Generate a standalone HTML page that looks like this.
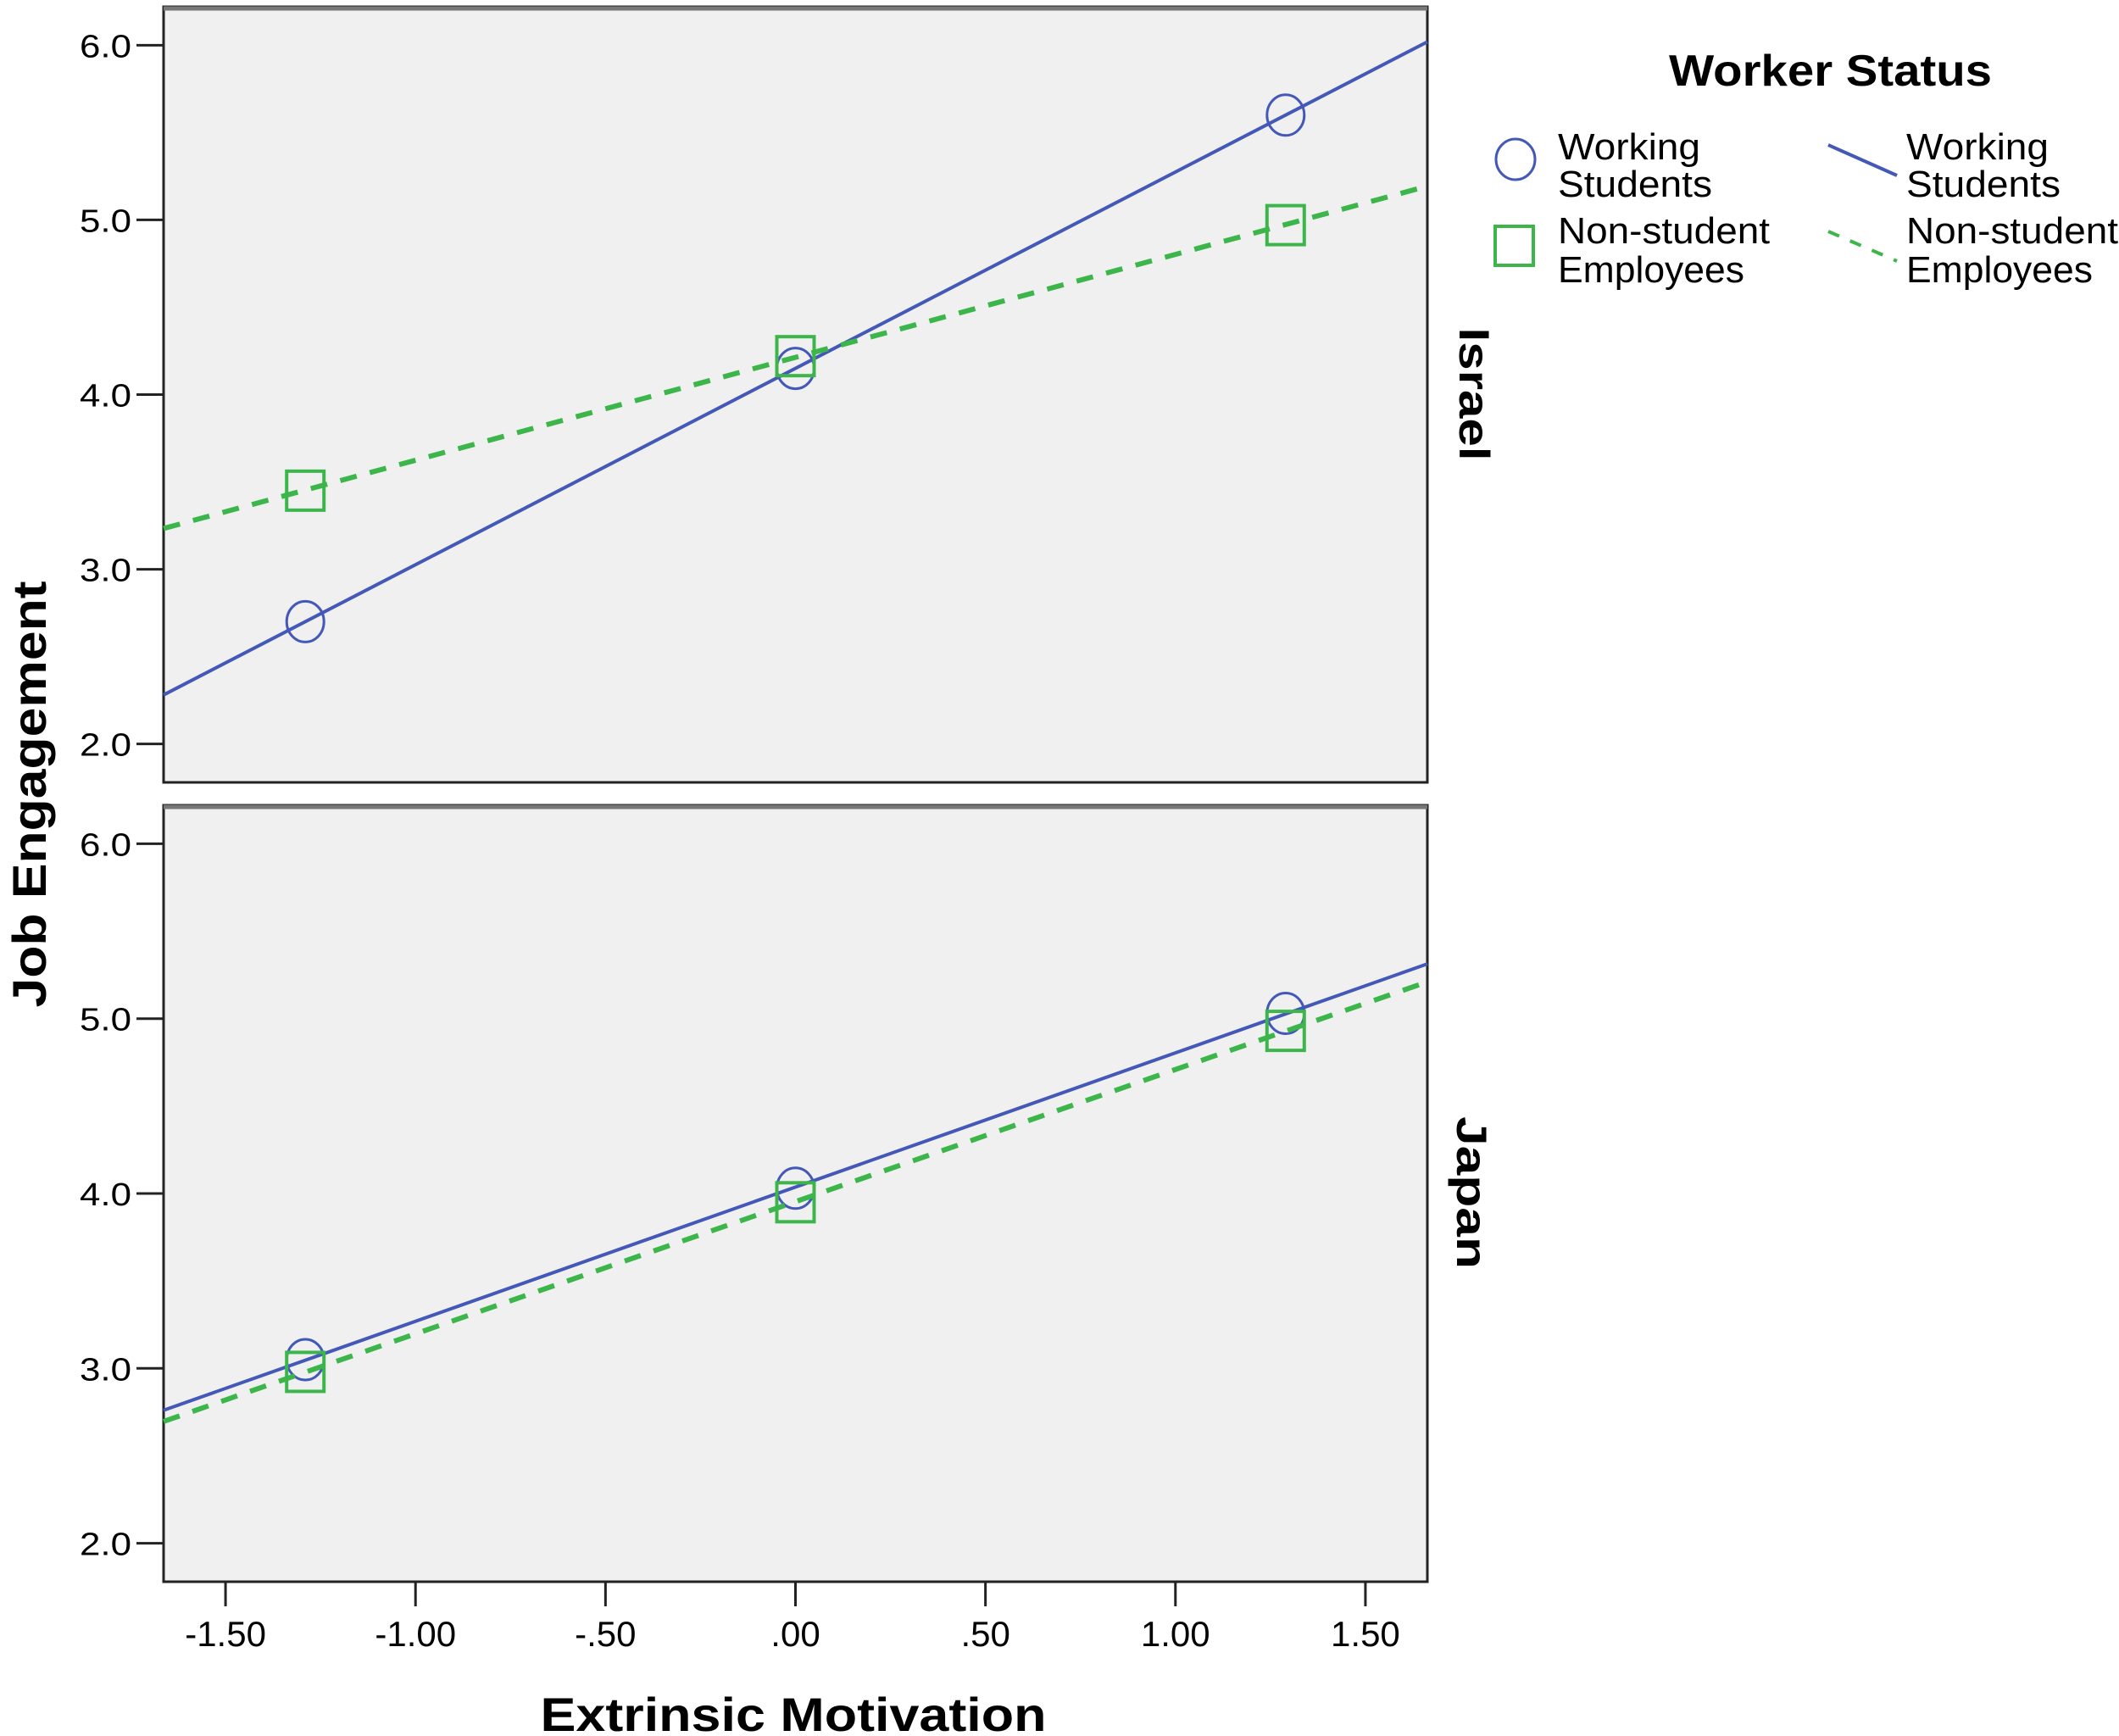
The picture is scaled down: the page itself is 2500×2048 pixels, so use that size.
<!DOCTYPE html>
<html><head><meta charset="utf-8"><style>
html,body{margin:0;padding:0;background:#fff;}
svg{display:block;font-family:"Liberation Sans",Arial,sans-serif;}
</style></head><body>
<svg id="chart" width="2500" height="2048" viewBox="0 0 2500 2048" xmlns="http://www.w3.org/2000/svg">
<g id="panels"></g>
<text x="936" y="2042" font-size="56" font-weight="bold" text-anchor="middle" textLength="597" lengthAdjust="spacingAndGlyphs">Extrinsic Motivation</text>
<text transform="translate(54,937) rotate(-90)" font-size="56" font-weight="bold" text-anchor="middle" textLength="503" lengthAdjust="spacingAndGlyphs">Job Engagement</text>
<g>
<text x="1969" y="101" font-size="52" font-weight="bold" textLength="381" lengthAdjust="spacingAndGlyphs">Worker Status</text>
<g>
<ellipse cx="1788" cy="188" rx="23" ry="24" fill="none" stroke="#4458b8" stroke-width="3"/>
<text x="1838" y="188" font-size="44" textLength="168" lengthAdjust="spacingAndGlyphs">Working</text>
<text x="1838" y="232" font-size="44" textLength="182" lengthAdjust="spacingAndGlyphs">Students</text>
</g>
<g>
<rect x="1764" y="267" width="45" height="46" fill="none" stroke="#3cb64a" stroke-width="4"/>
<text x="1838" y="287" font-size="44" textLength="250" lengthAdjust="spacingAndGlyphs">Non-student</text>
<text x="1838" y="333" font-size="44" textLength="220" lengthAdjust="spacingAndGlyphs">Employees</text>
</g>
<g>
<line x1="2157" y1="171" x2="2238" y2="207" stroke="#4458b8" stroke-width="4"/>
<text x="2249" y="188" font-size="44" textLength="168" lengthAdjust="spacingAndGlyphs">Working</text>
<text x="2249" y="232" font-size="44" textLength="182" lengthAdjust="spacingAndGlyphs">Students</text>
</g>
<g>
<line x1="2157" y1="273" x2="2238" y2="308" stroke="#3cb64a" stroke-width="4" stroke-dasharray="14,14"/>
<text x="2249" y="287" font-size="44" textLength="250" lengthAdjust="spacingAndGlyphs">Non-student</text>
<text x="2249" y="333" font-size="44" textLength="220" lengthAdjust="spacingAndGlyphs">Employees</text>
</g>
</g>
</svg>
<script>
const countries = ["Israel", "Japan"];
const xPoints = [-1.29, 0, 1.29];
const israelWorking = [2.70, 4.15, 5.60];
const israelNonStudent = [3.45, 4.22, 4.97];
const japanWorking = [3.05, 4.03, 5.03];
const japanNonStudent = [2.98, 3.95, 4.93];
const yTicks = [2.0, 3.0, 4.0, 5.0, 6.0];
const yTickLabels = ["2.0", "3.0", "4.0", "5.0", "6.0"];
const xTicks = [-1.5, -1.0, -0.5, 0, 0.5, 1.0, 1.5];
const xTickLabels = ["-1.50", "-1.00", "-.50", ".00", ".50", "1.00", "1.50"];

const NS = "http://www.w3.org/2000/svg";
const L = 193, R = 1684;
const xMin = -1.663, xMax = 1.663;
const panelTops = [8, 950], panelBots = [923, 1866];
const yMin = 1.78, yMax = 6.22;
const seriesByPanel = [[israelWorking, israelNonStudent], [japanWorking, japanNonStudent]];
const labelCenters = [[1740, 465], [1737, 1407]];
const labelLens = [157, 180];

function xs(v) { return L + (v - xMin) / (xMax - xMin) * (R - L); }
function mk(tag, attrs, parent) {
  const e = document.createElementNS(NS, tag);
  for (const k in attrs) e.setAttribute(k, attrs[k]);
  parent.appendChild(e);
  return e;
}
function fit(ys) {
  const n = xPoints.length;
  let mx = 0, my = 0;
  for (let i = 0; i < n; i++) { mx += xPoints[i]; my += ys[i]; }
  mx /= n; my /= n;
  let sxy = 0, sxx = 0;
  for (let i = 0; i < n; i++) { sxy += (xPoints[i] - mx) * (ys[i] - my); sxx += (xPoints[i] - mx) ** 2; }
  const b = sxy / sxx;
  return [b, my - b * mx];
}
const root = document.getElementById('panels');
countries.forEach((c, p) => {
  const T = panelTops[p], B = panelBots[p];
  const ys = v => B - (v - yMin) / (yMax - yMin) * (B - T);
  const g = mk('g', {}, root);
  
  
  const bg = mk('rect', {x: L, y: T, width: R - L, height: B - T, fill: '#f0f0f0', stroke: '#222', 'stroke-width': 3}, g);
  
  
  mk('line', {x1: L, y1: T + 2, x2: R, y2: T + 2, stroke: '#777', 'stroke-width': 5}, g);
  yTicks.forEach((t, i) => {
    const y = ys(t);
    const tk = mk('line', {x1: 161, y1: y, x2: L, y2: y, stroke: '#222', 'stroke-width': 3}, g);
    
    
    const tl = mk('text', {x: 155, y: y + 14, 'font-size': 38, 'text-anchor': 'end', textLength: 61, lengthAdjust: 'spacingAndGlyphs'}, g);
    tl.textContent = yTickLabels[i];
    
    
  });
  const cols = ['#4458b8', '#3cb64a'];
  seriesByPanel[p].forEach((vals, s) => {
    const [b, a] = fit(vals);
    const ln = mk('line', {x1: xs(xMin), y1: ys(a + b * xMin), x2: xs(xMax), y2: ys(a + b * xMax), stroke: cols[s], 'stroke-width': s ? 6 : 4}, g);
    if (s) ln.setAttribute('stroke-dasharray', '20,16');
    
    
    vals.forEach((v, i) => {
      const cx = xs(xPoints[i]), cy = ys(v);
      let m;
      if (s === 0) m = mk('ellipse', {cx: cx, cy: cy, rx: 22, ry: 24, fill: 'none', stroke: cols[0], 'stroke-width': 3}, g);
      else m = mk('rect', {x: cx - 22, y: cy - 23, width: 44, height: 46, fill: 'none', stroke: cols[1], 'stroke-width': 4}, g);
      
      
    });
  });
  const [lx, ly] = labelCenters[p];
  const lab = mk('text', {transform: `translate(${lx - 18},${ly}) rotate(90)`, 'font-size': 50, 'font-weight': 'bold', 'text-anchor': 'middle', textLength: labelLens[p], lengthAdjust: 'spacingAndGlyphs'}, g);
  lab.textContent = c;
  
  
});
const ax = mk('g', {}, root);


xTicks.forEach((t, i) => {
  const x = xs(t);
  const tk = mk('line', {x1: x, y1: 1866, x2: x, y2: 1895, stroke: '#222', 'stroke-width': 3}, ax);
  
  
  const tl = mk('text', {x: x, y: 1942, 'font-size': 42, 'text-anchor': 'middle'}, ax);
  tl.textContent = xTickLabels[i];
  
  
});
</script>
</body></html>
